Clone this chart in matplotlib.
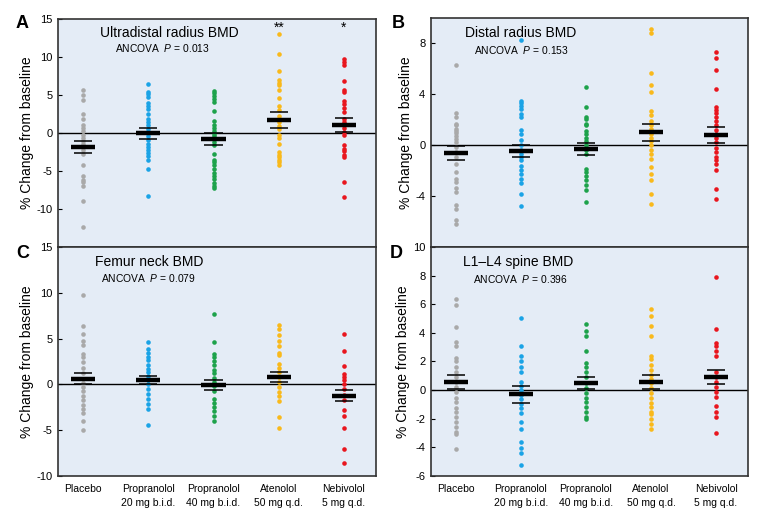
import numpy as np
import matplotlib.pyplot as plt

plt.rcParams['font.family'] = ['Liberation Sans', 'DejaVu Sans']
plt.rcParams['axes.unicode_minus'] = False
plt.rcParams['mathtext.fontset'] = 'custom'
plt.rcParams['mathtext.it'] = 'Liberation Sans:italic'
plt.rcParams['mathtext.rm'] = 'Liberation Sans'

groups = ['Placebo', 'Propranolol\n20 mg b.i.d.', 'Propranolol\n40 mg b.i.d.',
          'Atenolol\n50 mg q.d.', 'Nebivolol\n5 mg q.d.']
colors = ['#a9a9a9', '#1aa3e6', '#1da24b', '#f9b91b', '#e8161e']

# A: ultradistal radius
ud_vals = [
    [5.6, 5.0, 4.3, 2.5, 1.8, 1.0, 0.6, 0.2, -0.3, -0.7, -1.0, -1.4, -1.8, -2.2, -2.7,
     -4.2, -5.7, -6.2, -6.5, -7.0, -8.9, -12.4],
    [6.5, 5.4, 5.1, 4.8, 4.0, 3.5, 3.1, 2.5, 1.9, 1.4, 1.0, 0.5, 0.0, -0.4, -0.9, -1.4,
     -1.8, -2.2, -2.6, -3.0, -3.6, -4.7, -8.3],
    [5.5, 5.2, 4.9, 4.5, 4.1, 2.9, 1.6, 1.1, 0.7, 0.3, -0.1, -0.4, -0.8, -1.2, -1.6,
     -2.7, -3.5, -3.8, -4.2, -4.8, -5.3, -5.7, -6.1, -6.6, -7.0, -7.3],
    [13.0, 10.4, 8.1, 7.0, 6.6, 6.3, 5.7, 4.6, 3.6, 3.0, 2.3, 1.8, 1.4, 0.9, 0.5, -0.2,
     -0.6, -1.4, -2.5, -2.9, -3.1, -3.5, -3.8, -4.2],
    [9.8, 9.3, 9.0, 6.8, 5.7, 5.4, 4.2, 3.8, 3.3, 2.8, 1.8, 1.4, 1.0, 0.6, 0.1, -0.2,
     -1.6, -2.1, -2.4, -2.9, -3.2, -6.5, -8.4],
]
ud_mean = [-1.8, 0.0, -0.75, 1.7, 1.05]
ud_hi = [-1.05, 0.7, 0.0, 2.7, 2.0]
ud_lo = [-2.6, -0.75, -1.55, 0.7, 0.15]

# B: distal radius
dr_vals = [
    [6.3, 2.5, 2.2, 1.7, 1.55, 1.3, 1.15, 0.95, 0.7, 0.5, 0.25, -0.15, -0.55, -0.95,
     -1.45, -2.1, -2.65, -2.9, -3.35, -3.7, -4.7, -5.05, -5.85, -6.2],
    [8.3, 3.5, 3.3, 3.1, 2.85, 2.45, 2.2, 1.2, 0.85, 0.4, 0.0, -0.4, -0.7, -0.95, -1.2,
     -1.6, -1.95, -2.25, -2.65, -3.0, -3.85, -4.8],
    [4.6, 3.0, 2.25, 2.05, 1.7, 1.55, 1.15, 0.9, 0.6, 0.3, 0.0, -0.4, -0.7, -1.85,
     -2.1, -2.45, -2.75, -3.15, -3.5, -4.45],
    [9.1, 8.85, 5.65, 4.7, 4.15, 2.7, 2.4, 1.9, 1.55, 1.3, 0.9, 0.6, 0.3, 0.0, -0.35,
     -0.7, -1.05, -1.7, -2.3, -2.7, -3.85, -4.65],
    [7.35, 6.85, 5.9, 4.4, 3.0, 2.75, 2.5, 2.2, 1.9, 1.55, 1.2, 0.85, 0.6, 0.25, -0.2,
     -0.55, -0.9, -1.15, -1.45, -1.95, -3.45, -4.25],
]
dr_mean = [-0.6, -0.45, -0.3, 1.0, 0.8]
dr_hi = [-0.1, 0.05, 0.2, 1.65, 1.45]
dr_lo = [-1.2, -0.95, -0.8, 0.35, 0.15]

# C: femur neck
fn_vals = [
    [9.8, 6.4, 5.5, 4.75, 4.25, 3.35, 3.0, 2.4, 1.8, 1.2, 0.6, 0.15, -0.3, -0.75,
     -1.25, -1.75, -2.2, -2.65, -3.15, -3.95, -4.95],
    [4.6, 3.9, 3.45, 3.0, 2.65, 2.1, 1.7, 1.35, 0.9, 0.45, 0.0, -0.5, -1.0, -1.6,
     -2.1, -2.65, -4.4],
    [7.65, 4.6, 3.35, 3.0, 2.55, 2.1, 1.6, 1.2, 0.75, 0.25, -0.2, -0.75, -1.6, -2.05,
     -2.5, -2.95, -3.4, -3.95],
    [6.5, 6.0, 5.4, 4.75, 4.2, 3.45, 3.2, 2.25, 1.8, 1.35, 0.8, 0.25, -0.3, -0.85,
     -1.3, -1.85, -3.6, -4.8],
    [5.55, 3.7, 2.0, 1.1, 0.8, 0.45, 0.0, -0.5, -1.2, -1.75, -2.85, -3.5, -4.8, -7.05,
     -8.6],
]
fn_mean = [0.6, 0.45, -0.05, 0.8, -1.25]
fn_hi = [1.25, 0.95, 0.5, 1.3, -0.6]
fn_lo = [0.0, 0.0, -0.65, 0.3, -1.85]

# D: L1-L4 spine
sp_vals = [
    [6.4, 5.95, 4.4, 3.35, 3.05, 2.25, 2.05, 1.6, 1.3, 0.95, 0.6, 0.25, -0.15, -0.55,
     -0.85, -1.25, -1.55, -1.85, -2.2, -2.55, -2.9, -3.1, -4.1],
    [5.05, 3.1, 2.4, 2.05, 1.65, 1.25, 0.6, 0.3, 0.0, -0.35, -0.65, -0.95, -1.25, -1.6,
     -2.2, -2.7, -3.6, -4.05, -4.4, -5.2],
    [4.6, 4.15, 3.75, 2.75, 1.9, 1.65, 1.3, 0.9, 0.5, 0.15, -0.2, -0.55, -0.85, -1.2,
     -1.5, -1.85, -2.05],
    [5.7, 5.2, 4.45, 3.75, 2.4, 2.2, 1.75, 1.4, 1.05, 0.75, 0.5, 0.15, -0.2, -0.55,
     -0.9, -1.2, -1.5, -1.7, -2.0, -2.35, -2.7],
    [7.9, 4.25, 3.3, 3.05, 2.75, 2.35, 1.25, 0.95, 0.6, 0.25, -0.15, -0.45, -1.1, -1.5,
     -1.9, -3.0],
]
sp_mean = [0.6, -0.3, 0.5, 0.6, 0.9]
sp_hi = [1.05, 0.3, 0.9, 1.05, 1.4]
sp_lo = [0.05, -0.9, 0.1, 0.1, 0.4]

panels = [
    dict(letter='A', title='Ultradistal radius BMD', p='0.013', vals=ud_vals, mean=ud_mean,
         hi=ud_hi, lo=ud_lo, ylim=(-15, 15), ticks=[-10, -5, 0, 5, 10, 15],
         rect=[0.0755, 0.5277, 0.414, 0.436], tx=0.132, ty=0.939, ax_=0.179, ay=0.873,
         lx=0.029, ly=0.956),
    dict(letter='B', title='Distal radius BMD', p='0.153', vals=dr_vals, mean=dr_mean,
         hi=dr_hi, lo=dr_lo, ylim=(-8, 10), ticks=[-4, 0, 4, 8],
         rect=[0.561, 0.5277, 0.4128, 0.438], tx=0.107, ty=0.936, ax_=0.136, ay=0.86,
         lx=0.518, ly=0.955),
    dict(letter='C', title='Femur neck BMD', p='0.079', vals=fn_vals, mean=fn_mean,
         hi=fn_hi, lo=fn_lo, ylim=(-10, 15), ticks=[-10, -5, 0, 5, 10, 15],
         rect=[0.0755, 0.0899, 0.414, 0.4378], tx=0.116, ty=0.934, ax_=0.136, ay=0.865,
         lx=0.029, ly=0.516),
    dict(letter='D', title='L1\u2013L4 spine BMD', p='0.396', vals=sp_vals, mean=sp_mean,
         hi=sp_hi, lo=sp_lo, ylim=(-6, 10), ticks=[-6, -4, -2, 0, 2, 4, 6, 8, 10],
         rect=[0.561, 0.0899, 0.4128, 0.4378], tx=0.101, ty=0.934, ax_=0.132, ay=0.86,
         lx=0.516, ly=0.516),
]

fig = plt.figure(figsize=(7.68, 5.23), dpi=100)

for i, pn in enumerate(panels):
    ax = fig.add_axes(pn['rect'])
    ax.set_facecolor('#e4ecf6')
    for k, v in enumerate(pn['vals']):
        ax.plot(np.full(len(v), k), v, 'o', color=colors[k], ms=3.3, mec='none', zorder=3)
        ax.hlines(pn['mean'][k], k - 0.185, k + 0.185, color='black', lw=3.2, zorder=5)
        ax.hlines([pn['hi'][k], pn['lo'][k]], k - 0.14, k + 0.14, color='black', lw=1.1, zorder=5)
    ax.axhline(0, color='black', lw=1.0, zorder=2)
    ax.set_xlim(-0.385, 4.49)
    ax.set_ylim(*pn['ylim'])
    ax.set_yticks(pn['ticks'])
    ax.tick_params(axis='y', direction='in', length=3, width=0.8, labelsize=8, pad=4)
    for s in ax.spines.values():
        s.set_color('#333333')
        s.set_linewidth(1.2)
    if i >= 2:
        ax.set_xticks(range(5))
        ax.set_xticklabels(groups, fontsize=7.5, linespacing=1.4)
        ax.tick_params(axis='x', length=0, pad=6)
    else:
        ax.set_xticks([])
    ax.set_ylabel('% Change from baseline', fontsize=10, labelpad=2)
    ax.text(pn['tx'], pn['ty'], pn['title'], transform=ax.transAxes, fontsize=10,
            va='center', ha='left')
    ax.text(pn['ax_'], pn['ay'], 'ANCOVA  $P$ = ' + pn['p'], transform=ax.transAxes,
            fontsize=7.4, va='center', ha='left')
    fig.text(pn['lx'], pn['ly'], pn['letter'], fontsize=13,
             fontweight='bold', ha='center', va='center')

# significance marks in panel A
axA = fig.axes[0]
axA.text(3, 13.9, '**', ha='center', va='center', fontsize=10)
axA.text(4, 13.9, '*', ha='center', va='center', fontsize=10)

fig.savefig('out.png', dpi=100)
